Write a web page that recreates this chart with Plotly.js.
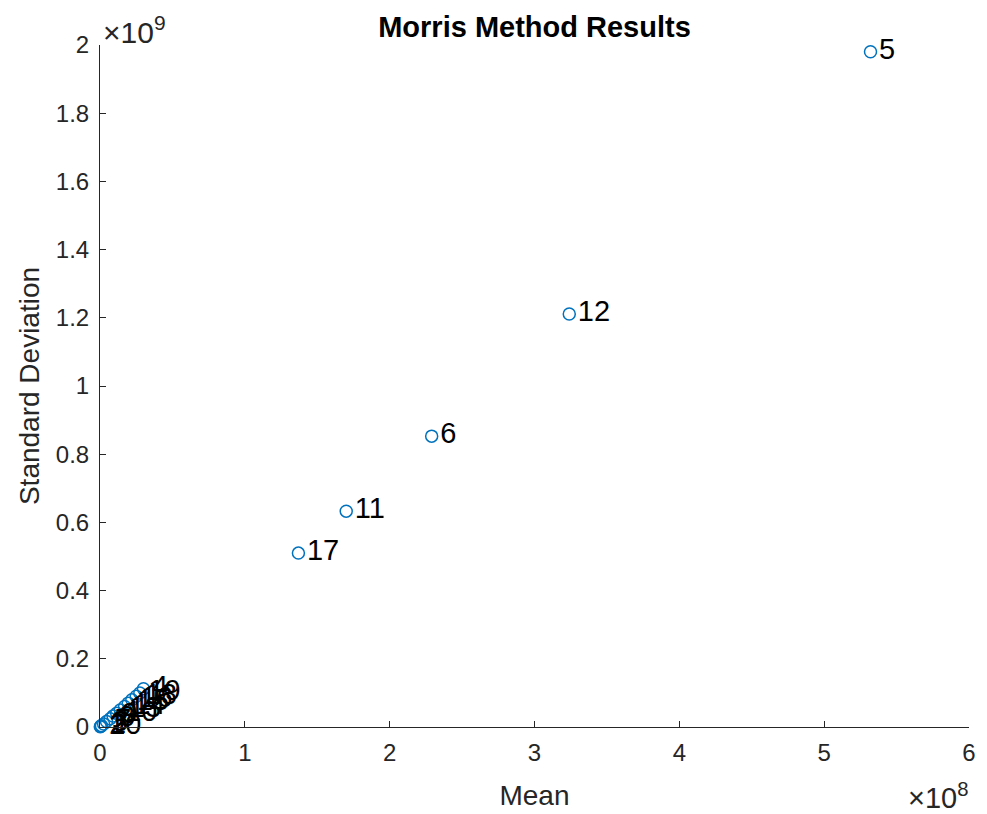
<!DOCTYPE html>
<html>
<head>
<meta charset="utf-8">
<script src="https://cdn.plot.ly/plotly-3.0.1.min.js"></script>
<style>html,body{margin:0;padding:0;background:#fff;}#chart{width:987px;height:814px;}</style>
</head>
<body>
<div id="chart"></div>
<script>
// Parameter labels
const labels = ['1','2','3','4','5','6','7','8','9','10','11','12','13','14','15','16','17','18','19','20'];
// Morris mean (mu*) values
const meanValues = [0.002e8,0.010e8,0.025e8,0.300e8,5.32e8,2.29e8,0.045e8,0.070e8,0.090e8,0.115e8,1.70e8,3.24e8,0.140e8,0.170e8,0.195e8,0.220e8,1.37e8,0.250e8,0.275e8,0.005e8];
// Morris standard deviation values
const sdValues = [0.001e9,0.004e9,0.009e9,0.112e9,1.98e9,0.853e9,0.016e9,0.024e9,0.032e9,0.040e9,0.633e9,1.211e9,0.050e9,0.060e9,0.070e9,0.080e9,0.510e9,0.090e9,0.100e9,0.002e9];
// Tick values / labels
const xTickVals = [0,1e8,2e8,3e8,4e8,5e8,6e8];
const xTickText = ['0','1','2','3','4','5','6'];
const yTickVals = [0,0.2e9,0.4e9,0.6e9,0.8e9,1.0e9,1.2e9,1.4e9,1.6e9,1.8e9,2.0e9];
const yTickText = ['0','0.2','0.4','0.6','0.8','1','1.2','1.4','1.6','1.8','2'];

const FONT = 'Liberation Sans, Arial, sans-serif';
const axisCol = '#262626';

const traces = [
  {
    x: meanValues, y: sdValues, text: labels, type: 'scatter', mode: 'markers+text',
    textposition: 'middle right',
    marker: {symbol: 'circle-open', size: 12, color: '#0072BD', line: {width: 1.5, color: '#0072BD'}},
    textfont: {family: FONT, size: 29, color: '#000000'},
    cliponaxis: false, hoverinfo: 'skip', showlegend: false
  }
];

const layout = {
  width: 987, height: 814,
  margin: {l: 100, r: 18, t: 45, b: 87},
  paper_bgcolor: '#ffffff', plot_bgcolor: '#ffffff',
  showlegend: false,
  font: {family: FONT, color: axisCol},
  title: {text: '<b>Morris Method Results</b>', x: 0.5, xanchor: 'center', xref: 'paper', y: 0.967, yanchor: 'middle', font: {family: FONT, size: 29, color: '#000000'}},
  xaxis: {
    range: [0, 6e8], tickvals: xTickVals, ticktext: xTickText,
    showgrid: false, zeroline: false, showline: true, linecolor: axisCol, linewidth: 1,
    ticks: 'inside', ticklen: 6, tickcolor: axisCol, tickwidth: 1,
    tickfont: {family: FONT, size: 24, color: axisCol}, ticklabelstandoff: 4,
    title: {text: 'Mean', font: {family: FONT, size: 28, color: axisCol}, standoff: 20},
    mirror: false, fixedrange: true
  },
  yaxis: {
    range: [0, 2e9], tickvals: yTickVals, ticktext: yTickText,
    showgrid: false, zeroline: false, showline: true, linecolor: axisCol, linewidth: 1,
    ticks: 'inside', ticklen: 6, tickcolor: axisCol, tickwidth: 1,
    tickfont: {family: FONT, size: 24, color: axisCol}, ticklabelstandoff: 5,
    title: {text: 'Standard Deviation', font: {family: FONT, size: 28, color: axisCol}, standoff: 8},
    mirror: false, fixedrange: true
  },
  annotations: [
    {text: '×10<sup>9</sup>', xref: 'paper', yref: 'paper', x: 0, y: 1, xanchor: 'left', yanchor: 'bottom', xshift: 1, yshift: -6, showarrow: false, font: {family: FONT, size: 30, color: axisCol}},
    {text: '×10<sup>8</sup>', xref: 'paper', yref: 'paper', x: 1, y: 0, xanchor: 'right', yanchor: 'top', xshift: 1, yshift: -49, showarrow: false, font: {family: FONT, size: 29, color: axisCol}}
  ]
};

Plotly.newPlot('chart', traces, layout, {displayModeBar: false, staticPlot: true});
</script>
</body>
</html>
